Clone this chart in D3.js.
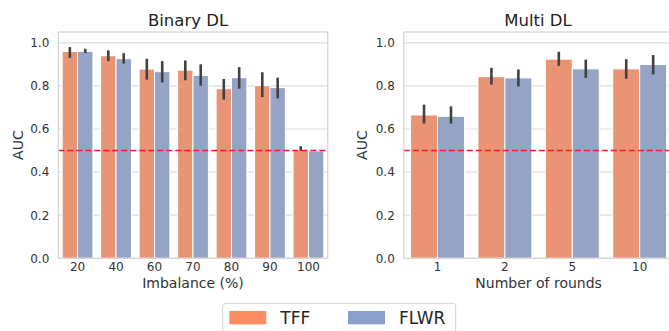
<!DOCTYPE html>
<html><head><meta charset="utf-8">
<script src="https://cdn.jsdelivr.net/npm/d3@7"></script>
<style>html,body{margin:0;padding:0;background:#fff;}svg{display:block;}</style>
</head><body>
<svg id="chart" width="669" height="331"></svg>
<script>
const series = ["TFF", "FLWR"];
const binaryCats = ["20", "40", "60", "70", "80", "90", "100"];
const binaryTFF = [0.960, 0.940, 0.878, 0.873, 0.787, 0.801, 0.500];
const binaryTFFLo = [0.930, 0.915, 0.829, 0.826, 0.736, 0.748, 0.498];
const binaryTFFHi = [0.980, 0.965, 0.926, 0.918, 0.832, 0.863, 0.520];
const binaryFLWR = [0.960, 0.926, 0.866, 0.849, 0.838, 0.792, 0.498];
const binaryFLWRLo = [0.952, 0.903, 0.816, 0.801, 0.787, 0.742, 0.497];
const binaryFLWRHi = [0.972, 0.952, 0.915, 0.900, 0.887, 0.838, 0.499];
const multiCats = ["1", "2", "5", "10"];
const multiTFF = [0.665, 0.843, 0.924, 0.879];
const multiTFFLo = [0.625, 0.806, 0.893, 0.833];
const multiTFFHi = [0.713, 0.884, 0.958, 0.924];
const multiFLWR = [0.659, 0.837, 0.879, 0.899];
const multiFLWRLo = [0.625, 0.798, 0.837, 0.853];
const multiFLWRHi = [0.705, 0.876, 0.922, 0.943];
const yTicks = [0.0, 0.2, 0.4, 0.6, 0.8, 1.0];
const threshold = 0.5;

const barColors = {TFF: "#e99575", FLWR: "#95a4c4"};
const legendColors = {TFF: "#fc8d62", FLWR: "#8da0cb"};
const font = "DejaVu Sans, sans-serif";
const svg = d3.select("#chart");

function panel(opts) {
  const {left, right, top, bottom, cats, vals, title, titleX, xlabel} = opts;
  const g = svg.append("g");
  const x0 = d3.scaleBand().domain(cats).range([left, right]).paddingInner(0.2).paddingOuter(0.1);
  const x1 = d3.scaleBand().domain(series).range([0, x0.bandwidth()]);
  const y = d3.scaleLinear().domain([0, 1.05]).range([bottom, top]);

  // grid
  g.append("g").selectAll("line").data(yTicks).join("line")
    .attr("x1", left).attr("x2", right)
    .attr("y1", d => y(d)).attr("y2", d => y(d))
    .attr("stroke", "#dedede").attr("stroke-width", 1.2);

  // bars
  const rows = [];
  cats.forEach((c, i) => {
    series.forEach(s => {
      rows.push({c, s, v: vals[s].v[i], lo: vals[s].lo[i], hi: vals[s].hi[i]});
    });
  });
  g.append("g").selectAll("rect").data(rows).join("rect")
    .attr("x", d => x0(d.c) + x1(d.s))
    .attr("width", x1.bandwidth())
    .attr("y", d => y(d.v))
    .attr("height", d => y(0) - y(d.v))
    .attr("fill", d => barColors[d.s])
    .attr("stroke", "#ffffff").attr("stroke-width", 1);

  // error bars
  g.append("g").selectAll("line").data(rows.filter(d => d.hi - d.lo > 0.003)).join("line")
    .attr("x1", d => x0(d.c) + x1(d.s) + x1.bandwidth() / 2)
    .attr("x2", d => x0(d.c) + x1(d.s) + x1.bandwidth() / 2)
    .attr("y1", d => y(d.lo)).attr("y2", d => y(d.hi))
    .attr("stroke", "#424242").attr("stroke-width", 2.6);

  // threshold
  g.append("line")
    .attr("x1", left).attr("x2", right)
    .attr("y1", y(threshold)).attr("y2", y(threshold))
    .attr("stroke", "#ff1a1a").attr("stroke-width", 1.5)
    .attr("stroke-dasharray", "6,3");

  // frame
  g.append("rect").attr("x", left).attr("y", top)
    .attr("width", right - left).attr("height", bottom - top)
    .attr("fill", "none").attr("stroke", "#d4d4d4").attr("stroke-width", 1.2);

  // y axis
  const ya = g.append("g").attr("transform", `translate(${left},0)`)
    .call(d3.axisLeft(y).tickValues(yTicks).tickFormat(d3.format(".1f")).tickSize(0).tickPadding(9));
  ya.select(".domain").remove();
  ya.selectAll("text").attr("font-family", font).attr("font-size", 12).attr("fill", "#333");

  // x axis
  const xa = g.append("g").attr("transform", `translate(0,${bottom})`)
    .call(d3.axisBottom(x0).tickSize(0).tickPadding(4));
  xa.select(".domain").remove();
  xa.selectAll("text").attr("font-family", font).attr("font-size", 12).attr("fill", "#333");

  g.append("text").attr("x", titleX).attr("y", 26).attr("text-anchor", "middle")
    .attr("font-family", font).attr("font-size", 16.5).attr("fill", "#222").text(title);
  g.append("text").attr("x", (left + right) / 2 - (opts.xlOff || 0)).attr("y", 288).attr("text-anchor", "middle")
    .attr("font-family", font).attr("font-size", 14).attr("fill", "#333").text(xlabel);
  g.append("text").attr("transform", `translate(${opts.ylabX},${(top + bottom) / 2}) rotate(-90)`)
    .attr("text-anchor", "middle").attr("font-family", font).attr("font-size", 14)
    .attr("fill", "#333").text("AUC");
}

panel({left: 58.3, right: 327.7, top: 32, bottom: 258.3, cats: binaryCats,
  vals: {TFF: {v: binaryTFF, lo: binaryTFFLo, hi: binaryTFFHi},
         FLWR: {v: binaryFLWR, lo: binaryFLWRLo, hi: binaryFLWRHi}},
  title: "Binary DL", titleX: 188, xlabel: "Imbalance (%)", xlOff: 0, ylabX: 23});

panel({left: 403.8, right: 673.4, top: 32, bottom: 258.3, cats: multiCats,
  vals: {TFF: {v: multiTFF, lo: multiTFFLo, hi: multiTFFHi},
         FLWR: {v: multiFLWR, lo: multiFLWRLo, hi: multiFLWRHi}},
  title: "Multi DL", titleX: 538, xlabel: "Number of rounds", xlOff: 0, ylabX: 367});

// legend
const lg = svg.append("g");
lg.append("rect").attr("x", 222.7).attr("y", 303.3).attr("width", 233).attr("height", 40)
  .attr("rx", 3).attr("fill", "#fff").attr("stroke", "#d4d4d4").attr("stroke-width", 1);
const legendX = d3.scaleOrdinal().domain(series).range([229.3, 348]);
series.forEach(s => {
  lg.append("rect").attr("x", legendX(s)).attr("y", 311).attr("width", 37).attr("height", 13.3)
    .attr("fill", legendColors[s]);
  lg.append("text").attr("x", legendX(s) + 51).attr("y", 324.3)
    .attr("font-family", font).attr("font-size", 17).attr("fill", "#262626").text(s);
});
</script>
</body></html>
